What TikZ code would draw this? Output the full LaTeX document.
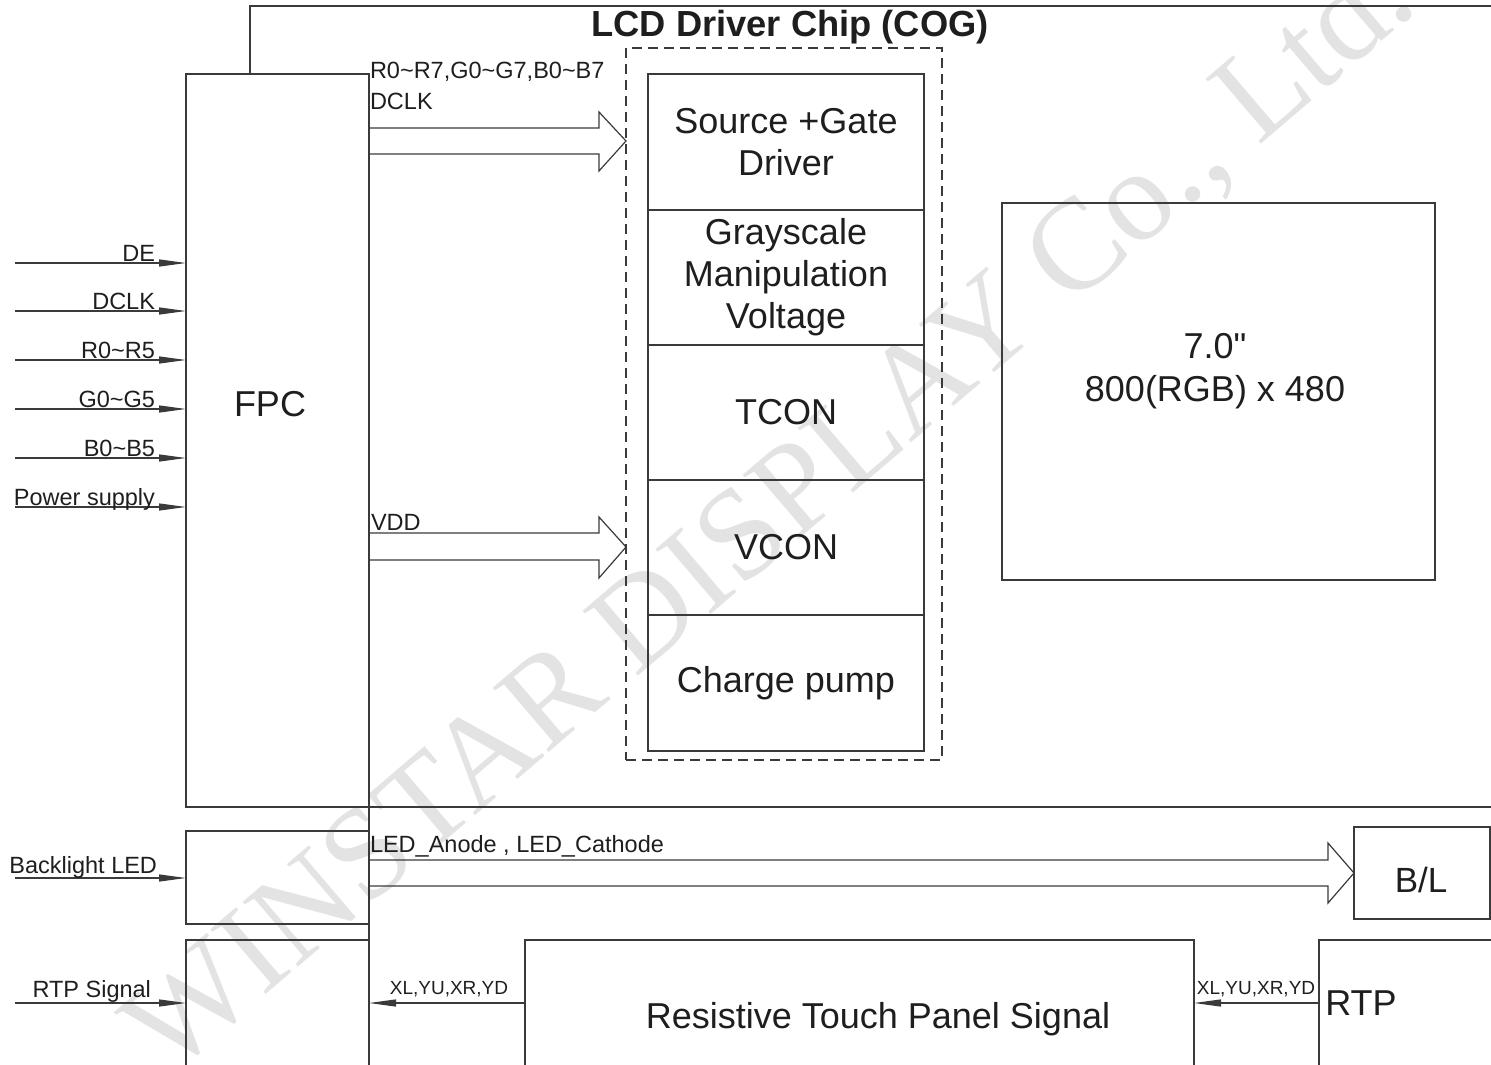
\documentclass[tikz,border=0pt]{standalone}
\usepackage{fontspec}
\setmainfont[Ligatures=TeXOff]{Liberation Sans}
\newfontfamily\wmfont{Liberation Serif}
\usetikzlibrary{arrows.meta,calc}
\newcommand\tld{\textasciitilde}
\definecolor{ln}{HTML}{3A3A3A}
\definecolor{tx}{HTML}{1E1E1E}
\definecolor{wm}{HTML}{E3E3E3}
\begin{document}
\begin{tikzpicture}[x=1pt,y=-1pt,
  every node/.style={inner sep=0pt,outer sep=0pt,text=tx},
  box/.style={draw=ln,line width=1.2pt,anchor=north west,align=center,font=\fontsize{36}{42}\selectfont},
  big/.style={font=\fontsize{36}{42}\selectfont},
  mid/.style={font=\fontsize{23.5}{27}\selectfont},
  small/.style={font=\fontsize{19}{22}\selectfont},
  wire/.style={draw=ln,line width=1.2pt},
  sig/.style={wire,-{Triangle[length=27pt,width=7pt]}},
  fat/.style={wire,line join=miter}]
\useasboundingbox (0,0) rectangle (1491,1065);
\begin{scope}
\clip (0,0) rectangle (1491,1065);
% watermark
\node[font=\wmfont\fontsize{130}{130}\selectfont,text=wm,rotate=40.5] (wmark) at (772,516) {WINSTAR DISPLAY Co., Ltd.};

% FPC and chip outline
\node[box,minimum width=183pt,minimum height=733pt] (fpc) at (186,74) {};
\node[big,anchor=base] (fpclbl) at (270,416.5) {FPC};
\coordinate (chiptl) at (250,6);
\coordinate (chipbr) at (1491,807);
\draw[wire] (chiptl |- fpc.north) -- (chiptl) -- (chipbr |- chiptl);
\draw[wire] (fpc.south west) -- (chipbr);
\node[font=\bfseries\fontsize{36.3}{40}\selectfont,anchor=base] (title) at (790,36.5) {LCD Driver Chip (COG)};

% COG blocks
\node[box,dashed,dash pattern=on 10pt off 6pt,minimum width=316pt,minimum height=712pt] (cog) at (626,48) {};
\node[box,minimum width=276pt,minimum height=136pt] (sgd) at (648,74) {Source +Gate\\Driver};
\node[box,minimum width=276pt,minimum height=135pt] (gmv) at (648,210) {Grayscale\\Manipulation\\Voltage};
\node[box,minimum width=276pt,minimum height=135pt] (tcon) at (648,345) {TCON};
\node[box,minimum width=276pt,minimum height=135pt] (vcon) at (648,480) {VCON};
\node[box,minimum width=276pt,minimum height=136pt] (cp) at (648,615) {Charge pump};

% panel
\node[box,minimum width=433pt,minimum height=377pt] (panel) at (1002,203) {};
\node[big,anchor=base] (p1) at (1215,358.5) {7.0"};
\node[big,anchor=base] (p2) at (1215,401.5) {800(RGB) x 480};

% left inputs
\foreach \y/\t [count=\i] in {263/DE,311/DCLK,360/R0\tld R5,409/G0\tld G5,458/B0\tld B5,507/Power supply}{
  \coordinate (in\i) at (15,\y);
  \draw[sig] (in\i) -- (in\i -| fpc.west);
  \node[mid,anchor=base east] (inl\i) at (155,\y-1.8) {\t};
}

% fat arrows to COG
\draw[fat] (fpc.east |- 0,128) -- (599,128) -- (599,112) -- (cog.west |- 0,141) -- (599,171) -- (599,154) -- (fpc.east |- 0,154);
\node[mid,anchor=base west] (a1l1) at (370,78.5) {R0\tld R7,G0\tld G7,B0\tld B7};
\node[mid,anchor=base west] (a1l2) at (370,109) {DCLK};
\draw[fat] (fpc.east |- 0,533) -- (599,533) -- (599,517) -- (cog.west |- 0,547) -- (599,578) -- (599,560) -- (fpc.east |- 0,560);
\node[mid,anchor=base west] (vddl) at (371,530) {VDD};

% backlight
\node[box,minimum width=183pt,minimum height=93pt] (blin) at (186,831) {};
\coordinate (blsrc) at (15,878);
\draw[sig] (blsrc) -- (blsrc -| blin.west);
\node[mid,anchor=base east] (bllbl) at (157,873) {Backlight LED};
\node[box,minimum width=136pt,minimum height=92pt] (bl) at (1354,827) {};
\node[font=\fontsize{35}{40}\selectfont,anchor=base] (bltext) at (1421,892) {B/L};
\draw[fat] (blin.east |- 0,860) -- (1328,860) -- (1328,843) -- (bl.west) -- (1328,903) -- (1328,886) -- (blin.east |- 0,886);
\node[mid,anchor=base west] (ledl) at (370,852) {LED\_Anode , LED\_Cathode};

% RTP
\node[box,minimum width=183pt,minimum height=160pt] (rtpin) at (186,940) {};
\coordinate (rtpsrc) at (15,1003);
\draw[sig] (rtpsrc) -- (rtpsrc -| rtpin.west);
\node[mid,anchor=base east] (rtplbl) at (151,997) {RTP Signal};
\node[box,minimum width=669pt,minimum height=160pt] (res) at (525,940) {};
\node[big,anchor=base] (reslbl) at (878,1028.5) {Resistive Touch Panel Signal};
\node[box,minimum width=200pt,minimum height=160pt] (rtp) at (1319,940) {};
\node[big,anchor=base] (rtptext) at (1361,1015) {RTP};
\draw[sig] (res.west |- 0,1003) -- (rtpin.east |- 0,1003);
\draw[sig] (rtp.west |- 0,1003) -- (res.east |- 0,1003);
\node[small,anchor=base] (xl1) at (449,994) {XL,YU,XR,YD};
\node[small,anchor=base] (xl2) at (1256,994) {XL,YU,XR,YD};

% vertical link on FPC right side
\draw[wire] (fpc.south east) -- (blin.north east);
\draw[wire] (blin.south east) -- (rtpin.north east);
\end{scope}
\end{tikzpicture}
\end{document}
